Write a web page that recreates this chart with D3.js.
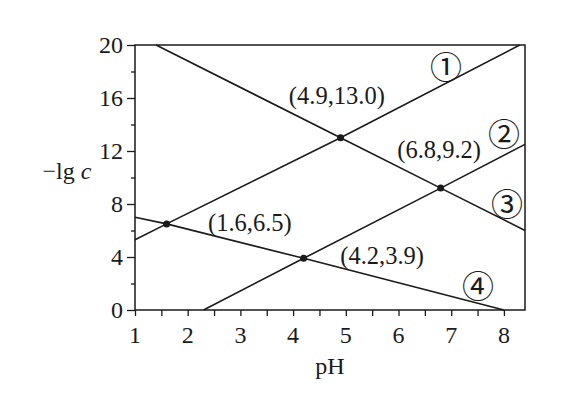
<!DOCTYPE html>
<html>
<head>
<meta charset="utf-8">
<script src="https://cdn.jsdelivr.net/npm/d3@7"></script>
<style>
  body { margin: 0; background: #fff; }
  svg { display: block; }
</style>
</head>
<body>
<svg id="chart" width="573" height="407"></svg>
<script>
(function() {

  // lines, [pH, -lg c]
  const line1 = [[1, 5.3], [1.6, 6.5], [4.9, 13.0], [8.3, 20]];
  const line2 = [[2.3, 0], [4.2, 3.9], [6.8, 9.2], [8.4, 12.5]];
  const line3 = [[1.4, 20], [4.9, 13.0], [6.8, 9.2], [8.4, 6.0]];
  const line4 = [[1, 7.0], [1.6, 6.5], [4.2, 3.9], [8.0, 0]];

  const points = [[1.6, 6.5], [4.9, 13.0], [6.8, 9.2], [4.2, 3.9]];
  const pointLabels = ["(1.6,6.5)", "(4.9,13.0)", "(6.8,9.2)", "(4.2,3.9)"];
  const pointLabelPos = [[3.18, 6.64], [4.83, 16.2], [6.77, 12.1], [5.69, 4.15]];

  const lineNames = ["①", "②", "③", "④"];
  const lineNamePos = [[6.9, 18.5], [8.0, 13.4], [8.06, 8.15], [7.51, 1.95]];

  const xTicks = [1, 2, 3, 4, 5, 6, 7, 8];
  const yTicks = [0, 4, 8, 12, 16, 20];

  const INK = "#1a1a1a";
  const FONT = "Times New Roman, Liberation Serif, Times, serif";

  const svg = d3.select("#chart");
  const x = d3.scaleLinear().domain([1, 8.4]).range([135, 525]);
  const y = d3.scaleLinear().domain([0, 20]).range([310, 45]);

  // frame
  svg.append("rect")
    .attr("x", x(1)).attr("y", y(20))
    .attr("width", x(8.4) - x(1)).attr("height", y(0) - y(20))
    .attr("fill", "none").attr("stroke", INK).attr("stroke-width", 1.5);

  // x axis
  const xAxis = svg.append("g").attr("transform", `translate(0,${y(0)})`);
  xAxis.call(d3.axisBottom(x).tickValues(d3.range(1, 8.5, 0.5)).tickSize(6).tickFormat(""))
    .call(g => g.select(".domain").remove())
    .call(g => g.selectAll("line").attr("stroke", INK).attr("stroke-width", 1.3));
  xTicks.forEach(t => {
    xAxis.append("text")
      .attr("x", x(t)).attr("y", 33)
      .attr("text-anchor", "middle")
      .attr("font-family", FONT).attr("font-size", 24)
      .attr("fill", INK).text(t);
  });

  // y axis
  const yAxis = svg.append("g").attr("transform", `translate(${x(1)},0)`);
  yAxis.call(d3.axisLeft(y).tickValues(d3.range(2, 20, 4)).tickSize(4).tickFormat(""))
    .call(g => g.select(".domain").remove())
    .call(g => g.selectAll("line").attr("stroke", INK).attr("stroke-width", 1.3));
  yAxis.append("g")
    .call(d3.axisLeft(y).tickValues(yTicks).tickSize(8).tickFormat(""))
    .call(g => g.select(".domain").remove())
    .call(g => g.selectAll("line").attr("stroke", INK).attr("stroke-width", 1.3));
  yTicks.forEach(t => {
    yAxis.append("text")
      .attr("x", -12).attr("y", y(t))
      .attr("text-anchor", "end")
      .attr("dominant-baseline", "central")
      .attr("font-family", FONT).attr("font-size", 24)
      .attr("fill", INK).text(t);
  });

  // axis titles
  svg.append("text")
    .attr("x", x(4.7)).attr("y", 374)
    .attr("text-anchor", "middle")
    .attr("font-family", FONT).attr("font-size", 24)
    .attr("fill", INK).text("pH");

  const yTitle = svg.append("text")
    .attr("x", 67).attr("y", 179)
    .attr("text-anchor", "middle")
    .attr("font-family", FONT).attr("font-size", 24)
    .attr("fill", INK);
  yTitle.append("tspan").text("\u2212lg ");
  yTitle.append("tspan").attr("font-style", "italic").text("c");

  // lines
  const lineGen = d3.line().x(d => x(d[0])).y(d => y(d[1]));
  [line1, line2, line3, line4].forEach(data => {
    svg.append("path")
      .attr("d", lineGen(data))
      .attr("fill", "none")
      .attr("stroke", INK)
      .attr("stroke-width", 1.6);
  });

  // intersection points
  svg.selectAll("circle.pt")
    .data(points)
    .join("circle")
    .attr("class", "pt")
    .attr("cx", d => x(d[0])).attr("cy", d => y(d[1]))
    .attr("r", 3.5)
    .attr("fill", INK);

  pointLabels.forEach((lab, i) => {
    svg.append("text")
      .attr("x", x(pointLabelPos[i][0])).attr("y", y(pointLabelPos[i][1]))
      .attr("text-anchor", "middle")
      .attr("dominant-baseline", "central")
      .attr("font-family", FONT).attr("font-size", 24.5)
      .attr("fill", INK).text(lab);
  });

  lineNames.forEach((lab, i) => {
    svg.append("text")
      .attr("x", x(lineNamePos[i][0])).attr("y", y(lineNamePos[i][1]))
      .attr("text-anchor", "middle")
      .attr("dominant-baseline", "central")
      .attr("font-family", "Noto Sans CJK SC, DejaVu Sans, sans-serif").attr("font-size", 32)
      .attr("fill", INK).text(lab);
  });

})();
</script>
</body>
</html>
